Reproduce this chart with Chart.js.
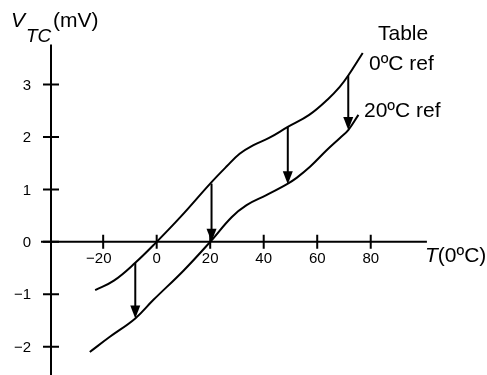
<!DOCTYPE html>
<html>
<head>
<meta charset="utf-8">
<script src="https://cdn.jsdelivr.net/npm/chart.js@4.4.1/dist/chart.umd.min.js"></script>
<style>
  html, body { margin: 0; padding: 0; background: #fff; }
  canvas { display: block; }
</style>
</head>
<body>
<canvas id="tc" width="487" height="375"></canvas>
<script>
// thermocouple output vs temperature: 0ºC table curve and the same
// couple read against a 20ºC reference junction
const tableT = [-23, -16, -8, 0, 9, 20, 26, 31, 36, 42, 49, 57, 64, 68.5, 71.6, 77];
const tableV = [-0.92, -0.74, -0.40, 0, 0.48, 1.11, 1.43, 1.68, 1.84, 1.98, 2.19, 2.42, 2.72, 2.96, 3.17, 3.60];

const ref20T = [-25, -17.5, -8, -1.3, 10, 20, 28, 33.6, 41, 48.7, 52.3, 57.3, 63.6, 68.5, 71.6, 75.4];
const ref20V = [-2.10, -1.81, -1.46, -1.11, -0.55, 0, 0.47, 0.70, 0.89, 1.10, 1.22, 1.43, 1.75, 1.98, 2.13, 2.42];

// downward arrows: table value -> 20ºC reference value
const shiftT    = [-8, 20.5, 49, 71.6];
const shiftFrom = [-0.40, 1.11, 2.19, 3.17];
const shiftTo   = [-1.46, 0, 1.10, 2.13];

const xTicks = [-20, 0, 20, 40, 60, 80];
const yTicks = [-2, -1, 0, 1, 2, 3];

const FONT = '"Liberation Sans", Arial, Helvetica, sans-serif';
const INK = '#000';

const pts = (xs, ys) => xs.map((x, i) => ({ x, y: ys[i] }));
const signed = v => (v < 0 ? '\u2212' : '') + Math.abs(v);

const axesPlugin = {
  id: 'crossAxes',
  beforeDatasetsDraw(chart) {
    const { ctx, scales: { x, y } } = chart;
    const ax = x.left, ay = y.getPixelForValue(0);
    ctx.save();
    ctx.strokeStyle = INK;
    ctx.fillStyle = INK;
    ctx.lineWidth = 2;
    ctx.lineCap = 'butt';

    // axis lines
    ctx.beginPath();
    ctx.moveTo(ax, y.getPixelForValue(3.76));
    ctx.lineTo(ax, chart.height);
    ctx.moveTo(ax - 10, ay);
    ctx.lineTo(x.getPixelForValue(101), ay);
    ctx.stroke();

    // ticks crossing the axes
    ctx.beginPath();
    yTicks.forEach(v => {
      const py = y.getPixelForValue(v);
      ctx.moveTo(ax - 8, py);
      ctx.lineTo(ax + 8, py);
    });
    xTicks.forEach(v => {
      const px = x.getPixelForValue(v);
      ctx.moveTo(px, ay - 7);
      ctx.lineTo(px, ay + 7);
    });
    ctx.stroke();

    // tick labels
    ctx.font = '15px ' + FONT;
    ctx.textAlign = 'right';
    ctx.textBaseline = 'middle';
    yTicks.forEach(v => ctx.fillText(signed(v), ax - 20, y.getPixelForValue(v) + 1));

    ctx.textBaseline = 'alphabetic';
    xTicks.forEach(v => {
      const px = x.getPixelForValue(v);
      const w = ctx.measureText(String(Math.abs(v))).width;
      ctx.fillText(signed(v), px + w / 2, ay + 21);
    });
    ctx.restore();
  },
  afterDatasetsDraw(chart) {
    const { ctx, scales: { x, y } } = chart;
    ctx.save();
    ctx.strokeStyle = INK;
    ctx.fillStyle = INK;
    ctx.lineWidth = 2;
    shiftT.forEach((t, i) => {
      const px = x.getPixelForValue(t);
      const top = y.getPixelForValue(shiftFrom[i]);
      const tip = y.getPixelForValue(shiftTo[i]);
      const headLen = 13, headHalf = 5;
      ctx.beginPath();
      ctx.moveTo(px, top);
      ctx.lineTo(px, tip - headLen + 1);
      ctx.stroke();
      ctx.beginPath();
      ctx.moveTo(px - headHalf, tip - headLen);
      ctx.lineTo(px + headHalf, tip - headLen);
      ctx.lineTo(px, tip);
      ctx.closePath();
      ctx.fill();
    });

    // axis titles and curve labels
    ctx.textAlign = 'left';
    ctx.textBaseline = 'alphabetic';
    ctx.font = 'italic 21px ' + FONT;
    ctx.fillText('V', 11, 27);
    ctx.font = 'italic 19px ' + FONT;
    ctx.fillText('TC', 26, 42);
    ctx.font = '21px ' + FONT;
    ctx.fillText('(mV)', 53, 27);

    ctx.font = 'italic 21px ' + FONT;
    ctx.fillText('T', 425, 262);
    const tw = ctx.measureText('T').width;
    ctx.font = '21px ' + FONT;
    ctx.fillText('(0ºC)', 425 + tw, 262);

    ctx.fillText('Table', 378, 40);
    ctx.fillText('0ºC ref', 369, 70);
    ctx.fillText('20ºC ref', 364, 117);
    ctx.restore();
  }
};

const curve = (data) => ({
  data,
  borderColor: INK,
  borderWidth: 2,
  pointRadius: 0,
  fill: false,
  tension: 0.4
});

new Chart(document.getElementById('tc'), {
  type: 'line',
  data: {
    datasets: [
      curve(pts(tableT, tableV)),
      curve(pts(ref20T, ref20V))
    ]
  },
  options: {
    responsive: false,
    animation: false,
    events: [],
    layout: { padding: { left: 51, right: 36, top: 32, bottom: 2 } },
    plugins: { legend: { display: false }, tooltip: { enabled: false } },
    scales: {
      x: { type: 'linear', min: -39.5, max: 110, display: false },
      y: { type: 'linear', min: -2.5, max: 4, display: false }
    }
  },
  plugins: [axesPlugin]
});
</script>
</body>
</html>
